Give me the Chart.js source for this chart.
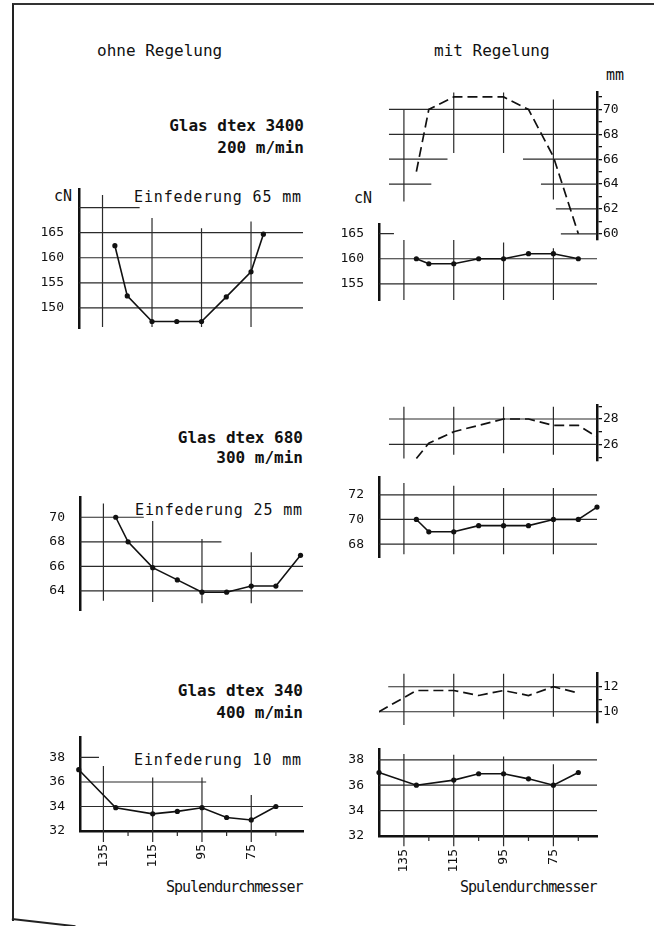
<!DOCTYPE html>
<html>
<head>
<meta charset="utf-8">
<script src="https://cdn.jsdelivr.net/npm/chart.js@4.4.1/dist/chart.umd.min.js"></script>
<style>
  body { margin: 0; background: #fff; width: 654px; height: 926px; overflow: hidden; position: relative;
         font-family: 'DejaVu Sans Mono', monospace; color: #111; }
  .box { position: absolute; }
  .t { position: absolute; white-space: pre; line-height: 1; font-size: 15px; }
  .b { font-weight: bold; font-size: 16px; }
  .frame { position: absolute; left: 12px; top: 3px; width: 660px; height: 916px;
           border-left: 2px solid #222; border-top: 2px solid #333; }
  .foot { position: absolute; left: 12px; top: 918px; width: 64px; border-top: 2px solid #222;
          transform: rotate(6.5deg); transform-origin: 0 0; }
</style>
</head>
<body>
<div class="frame"></div>
<div class="foot"></div>

<div class="t" style="left:97px;top:43px;font-size:16px">ohne Regelung</div>
<div class="t" style="left:434px;top:43px;font-size:16px">mit Regelung</div>
<div class="t" style="left:606px;top:68px">mm</div>

<div class="t b" style="right:350px;top:118px">Glas dtex 3400</div>
<div class="t b" style="right:350px;top:140px">200 m/min</div>
<div class="t" style="right:352px;top:190px;letter-spacing:0.85px">Einfederung 65 mm</div>
<div class="t" style="right:582px;top:189px">cN</div>
<div class="t" style="right:282px;top:191px">cN</div>

<div class="t b" style="right:351px;top:430px">Glas dtex 680</div>
<div class="t b" style="right:351px;top:450px">300 m/min</div>
<div class="t" style="right:351px;top:503px;letter-spacing:0.85px">Einfederung 25 mm</div>

<div class="t b" style="right:351px;top:683px">Glas dtex 340</div>
<div class="t b" style="right:351px;top:705px">400 m/min</div>
<div class="t" style="right:352px;top:753px;letter-spacing:0.85px">Einfederung 10 mm</div>

<div class="t" style="left:166px;top:880px;letter-spacing:-1px">Spulendurchmesser</div>
<div class="t" style="left:460px;top:880px;letter-spacing:-1px">Spulendurchmesser</div>

<script>
// Spulendurchmesser (mm) at which the readings were taken
const diam3400Ohne = [130, 125, 115, 105, 95, 85, 75, 70];
const diam3400Mit = [130, 125, 115, 105, 95, 85, 75, 65];
const diam680Ohne = [130, 125, 115, 105, 95, 85, 75, 65, 55];
const diam680Mit = [130, 125, 115, 105, 95, 85, 75, 65, 57.5];
const diam340 = [145, 130, 115, 105, 95, 85, 75, 65];

// Fadenzugkraft (cN)
const cn3400Ohne = [162.4, 152.4, 147.3, 147.3, 147.3, 152.2, 157.2, 164.7];
const cn3400Mit = [160, 159, 159, 160, 160, 161, 161, 160];
const cn680Ohne = [70.0, 68.0, 65.9, 64.9, 63.9, 63.9, 64.4, 64.4, 66.9];
const cn680Mit = [70, 69, 69, 69.5, 69.5, 69.5, 70, 70, 71];
const cn340Ohne = [37.0, 33.9, 33.4, 33.6, 33.9, 33.1, 32.9, 34.0];
const cn340Mit = [37.0, 36.0, 36.4, 36.9, 36.9, 36.5, 36.0, 37.0];

// Einfederung (mm) mit Regelung
const mm3400 = [65, 70, 71, 71, 71, 70, 66.2, 60];
const mm680 = [24.9, 26.1, 27.0, 27.5, 28.0, 28.0, 27.5, 27.5, 26.6];
const mm340 = [10.0, 11.7, 11.7, 11.3, 11.7, 11.3, 12.0, 11.5];

// tick labels
const diamTicks = [135, 115, 95, 75];
const cnTicks3400Ohne = [150, 155, 160, 165];
const cnTicks3400Mit = [155, 160, 165];
const cnTicks680Ohne = [64, 66, 68, 70];
const cnTicks680Mit = [68, 70, 72];
const cnTicks340 = [32, 34, 36, 38];
const mmTicks3400 = [60, 61, 62, 63, 64, 65, 66, 67, 68, 69, 70, 71];
const mmTicks680 = [25, 26, 27, 28, 29];
const mmTicks340 = [10, 11, 12];

const INK = '#111';
Chart.defaults.font.family = "'DejaVu Sans Mono', monospace";
Chart.defaults.font.size = 13;
Chart.defaults.color = INK;
Chart.defaults.animation = false;
Chart.defaults.plugins.legend.display = false;
Chart.defaults.plugins.tooltip.enabled = false;

// hand drawn grid: lines that stop short, given in data units
const handGrid = {
  id: 'handGrid',
  beforeDatasetsDraw(chart, args, o) {
    const {ctx, scales: {x, y}} = chart;
    ctx.save();
    ctx.strokeStyle = '#2b2b2b';
    ctx.lineWidth = 1.2;
    ctx.beginPath();
    (o.h || []).forEach(([v, a, b]) => {
      const py = y.getPixelForValue(v);
      ctx.moveTo(x.getPixelForValue(a ?? x.max), py);
      ctx.lineTo(x.getPixelForValue(b ?? x.min), py);
    });
    (o.v || []).forEach(([v, a, b]) => {
      const px = x.getPixelForValue(v);
      ctx.moveTo(px, y.getPixelForValue(a));
      ctx.lineTo(px, y.getPixelForValue(b));
    });
    ctx.stroke();
    ctx.restore();
  }
};

function plot(o) {
  const [l, t, r, b] = o.area;
  const left = o.side === 'left';
  const ml = left ? 52 : 0, mr = left ? 8 : 40, mt = 22, mb = o.xAxis ? 46 : 22;
  const box = document.createElement('div');
  box.className = 'box';
  box.style.left = (l - ml) + 'px';
  box.style.top = (t - mt) + 'px';
  box.style.width = (r - l + ml + mr) + 'px';
  box.style.height = (b - t + mt + mb) + 'px';
  const cv = document.createElement('canvas');
  box.appendChild(cv);
  document.body.appendChild(box);

  return new Chart(cv, {
    type: 'line',
    data: {
      datasets: o.series.map(s => ({
        data: s.x.map((x, i) => ({x, y: s.y[i]})),
        borderColor: INK,
        borderWidth: s.dashed ? 1.7 : 1.6,
        borderDash: s.dashed ? [10, 5] : [],
        pointRadius: s.dashed ? 0 : 2.6,
        pointBackgroundColor: INK,
        pointBorderWidth: 0,
        tension: 0,
        clip: false
      }))
    },
    options: {
      responsive: true,
      maintainAspectRatio: false,
      layout: {padding: {left: left ? 0 : ml, right: left ? mr : 0, top: mt, bottom: o.xAxis ? 0 : mb}},
      scales: {
        x: {
          type: 'linear', reverse: true, min: o.xMin, max: o.xMax,
          display: !!o.xAxis,
          afterBuildTicks: s => { s.ticks = diamTicks.map(v => ({value: v})); },
          afterFit: s => { if (o.xAxis) s.height = mb; },
          border: {display: true, width: 2.5, color: INK},
          grid: {display: false},
          ticks: {autoSkip: false, minRotation: 90, maxRotation: 90, padding: 5, color: INK}
        },
        y: {
          position: o.side, min: o.yMin, max: o.yMax,
          afterBuildTicks: s => { s.ticks = o.yTicks.map(v => ({value: v})); },
          afterFit: s => { s.width = left ? ml : mr; },
          border: {display: true, width: 2.5, color: INK},
          grid: left ? {display: false}
                     : {display: true, drawOnChartArea: false, drawTicks: true, tickLength: 5, color: INK, lineWidth: 1.3},
          ticks: {autoSkip: false, padding: left ? 7 : 1, color: INK,
                  callback: v => (o.evenOnly && v % 2) ? '' : v}
        }
      },
      plugins: {handGrid: o.grid}
    },
    plugins: [handGrid]
  });
}

// ---- Glas dtex 3400, 200 m/min ----
plot({area: [79, 189, 303, 328], side: 'left', xMin: 54, xMax: 144.5, yMin: 146, yMax: 173.7,
  yTicks: cnTicks3400Ohne, series: [{x: diam3400Ohne, y: cn3400Ohne}],
  grid: {h: [[170, 144.5, 120], [165], [160], [155], [150]],
         v: [[135, 172.5, 146.2], [115, 167.9, 146.2], [95, 165.9, 146.2], [75, 167.2, 146.2]]}});

plot({area: [379, 92, 597, 240], side: 'right', xMin: 57.5, xMax: 145, yMin: 59.5, yMax: 71.4,
  yTicks: mmTicks3400, evenOnly: true, series: [{x: diam3400Mit, y: mm3400, dashed: true}],
  grid: {h: [[70, 141], [68, 141], [66, 141, 117.5], [66, 87.2], [64, 141, 124], [64, 80], [62, 74], [60, 72]],
         v: [[135, 70, 62.6], [115, 71.35, 66.5], [95, 71.35, 66.5], [75, 70.8, 62.75]]}});

plot({area: [379, 224, 597, 300], side: 'left', xMin: 57.5, xMax: 145, yMin: 151.8, yMax: 166.9,
  yTicks: cnTicks3400Mit, series: [{x: diam3400Mit, y: cn3400Mit}],
  grid: {h: [[165, 145, 139], [160], [155]],
         v: [[135, 163.7, 151.8], [115, 163.7, 151.8], [95, 163.2, 151.8], [75, 162.1, 151.8]]}});

// ---- Glas dtex 680, 300 m/min ----
plot({area: [80, 497, 303, 610], side: 'left', xMin: 54, xMax: 144.5, yMin: 62.45, yMax: 71.65,
  yTicks: cnTicks680Ohne, series: [{x: diam680Ohne, y: cn680Ohne}],
  grid: {h: [[70, 144.5, 118.6], [68, 144.5, 87.1], [66], [64]],
         v: [[135, 71.13, 63.2], [115, 69.7, 63.1], [95, 68.23, 63.0], [75, 67.15, 63.0]]}});

plot({area: [379, 405, 597, 461], side: 'right', xMin: 57.5, xMax: 145, yMin: 24.7, yMax: 29.1,
  yTicks: mmTicks680, evenOnly: true, series: [{x: diam680Mit, y: mm680, dashed: true}],
  grid: {h: [[28, 141], [26, 141]],
         v: [[135, 28.96, 24.9], [115, 28.96, 25.2], [95, 28.96, 25.3], [75, 28.96, 25.2]]}});

plot({area: [379, 477, 597, 557], side: 'left', xMin: 57.5, xMax: 145, yMin: 66.96, yMax: 73.44,
  yTicks: cnTicks680Mit, series: [{x: diam680Mit, y: cn680Mit}],
  grid: {h: [[72], [70], [68]],
         v: [[135, 72.95, 67.18], [115, 72.73, 67.18], [95, 72.55, 67.18], [75, 72.55, 67.18]]}});

// ---- Glas dtex 340, 400 m/min ----
plot({area: [80, 737, 303, 831], side: 'left', xAxis: true, xMin: 54, xMax: 144.5, yMin: 32, yMax: 39.67,
  yTicks: cnTicks340, series: [{x: diam340, y: cn340Ohne}],
  grid: {h: [[38, 144.5, 136.8], [36, 144.5, 93.3], [34]],
         v: [[135, 37.3, 31.1], [115, 36.37, 31.1], [95, 36.37, 31.1], [75, 34.93, 31.1],
             [125, 32, 31.6], [105, 32, 31.6], [85, 32, 31.6], [65, 32, 31.6]]}});

plot({area: [379, 673, 597, 723], side: 'right', xMin: 57.5, xMax: 145, yMin: 9.1, yMax: 13.1,
  yTicks: mmTicks340, evenOnly: true, series: [{x: diam340, y: mm340, dashed: true}],
  grid: {h: [[12, 141.3], [10]],
         v: [[135, 13.05, 8.94], [115, 13.05, 9.6], [95, 13.05, 9.4], [75, 13.05, 9.6]]}});

plot({area: [379, 749, 597, 836], side: 'left', xAxis: true, xMin: 57.5, xMax: 145, yMin: 32, yMax: 38.85,
  yTicks: cnTicks340, series: [{x: diam340, y: cn340Mit}],
  grid: {h: [[38], [36], [34]],
         v: [[135, 38.45, 31.2], [115, 38.4, 31.2], [95, 38.25, 31.2], [75, 37.65, 31.2],
             [125, 32, 31.6], [105, 32, 31.6], [85, 32, 31.6], [65, 32, 31.6]]}});
</script>
</body>
</html>
